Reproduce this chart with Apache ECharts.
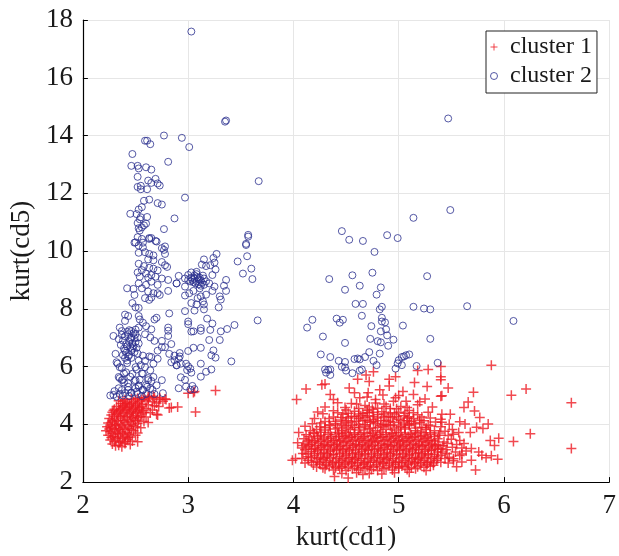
<!DOCTYPE html>
<html>
<head>
<meta charset="utf-8">
<script src="https://cdn.jsdelivr.net/npm/echarts@6/dist/echarts.min.js"></script>
<style>
  html, body { margin: 0; padding: 0; background: #fff; }
  #chart { width: 619px; height: 556px; }
</style>
</head>
<body>
<div id="chart"></div>
<script>
// axis ranges
const xRange = [2, 7];
const yRange = [2, 18];
const seriesNames = ['cluster 1', 'cluster 2'];

// cluster 1, low kurt(cd1) group
const cluster1Left = [
  [2.34,4.82],[2.40,4.85],[2.46,4.88],[2.52,4.90],[2.58,4.92],[2.63,4.97],[2.67,4.97],[2.68,4.92],[2.73,4.92],[2.73,4.86],[2.76,4.80],[2.78,4.88],[2.79,4.86],[2.62,4.95],
  [2.36,4.72],[2.42,4.75],[2.48,4.78],[2.54,4.80],[2.60,4.82],[2.66,4.78],[2.70,4.74],
  [2.32,4.62],[2.38,4.65],[2.44,4.68],[2.50,4.66],[2.56,4.70],[2.62,4.68],[2.68,4.64],[2.72,4.62],
  [2.30,4.52],[2.36,4.55],[2.42,4.58],[2.48,4.55],[2.54,4.58],[2.60,4.55],[2.66,4.50],[2.82,4.57],[2.90,4.60],[2.84,4.58],
  [2.28,4.42],[2.34,4.45],[2.40,4.48],[2.46,4.44],[2.52,4.46],[2.58,4.42],[2.64,4.40],[2.70,4.35],[2.71,4.32],
  [2.27,4.32],[2.32,4.35],[2.38,4.30],[2.44,4.34],[2.50,4.30],[2.55,4.28],[2.60,4.25],
  [2.25,4.20],[2.30,4.18],[2.36,4.22],[2.42,4.16],[2.48,4.20],[2.53,4.15],[2.62,4.06],[2.58,4.10],
  [2.24,4.05],[2.28,4.08],[2.34,4.02],[2.40,4.06],[2.46,4.00],[2.52,4.04],
  [2.23,3.92],[2.27,3.88],[2.32,3.94],[2.38,3.90],[2.44,3.86],[2.50,3.92],[2.55,3.88],
  [2.22,3.78],[2.26,3.74],[2.31,3.80],[2.36,3.76],[2.42,3.72],[2.48,3.78],[2.52,3.70],
  [2.24,3.62],[2.29,3.58],[2.34,3.64],[2.40,3.60],[2.45,3.56],[2.50,3.62],
  [2.26,3.46],[2.31,3.50],[2.36,3.44],[2.42,3.48],[2.47,3.42],[2.52,3.40],
  [2.28,3.32],[2.34,3.28],[2.40,3.34],[2.45,3.30],[2.37,3.22],[2.31,3.26],
  [2.29,4.48],[2.35,4.50],[2.41,4.52],[2.47,4.50],[2.53,4.52],[2.57,4.48],[2.33,4.38],[2.39,4.40],[2.45,4.38],[2.51,4.40],[2.56,4.36],
  [2.30,4.26],[2.36,4.28],[2.42,4.26],[2.47,4.24],[2.52,4.24],[2.28,4.12],[2.33,4.12],[2.39,4.12],[2.45,4.10],[2.50,4.12],
  [2.26,3.98],[2.31,3.99],[2.37,3.98],[2.43,3.94],[2.48,3.96],[2.25,3.84],[2.30,3.86],[2.35,3.84],[2.40,3.82],[2.46,3.82],
  [2.28,3.68],[2.33,3.70],[2.38,3.68],[2.44,3.66],[2.27,3.54],[2.33,3.56],[2.38,3.52],[2.43,3.54],[2.30,3.40],[2.35,3.38],[2.40,3.40],
  [2.38,4.60],[2.44,4.62],[2.50,4.60],[2.56,4.62],[2.40,4.72],[2.46,4.72],[2.52,4.74],[2.38,4.80],[2.50,4.84],[2.56,4.86],[2.62,4.88],
  [3.00,5.08],[3.06,5.14],[3.26,5.17],[3.07,4.43],[3.05,5.10]
];

// cluster 1, high kurt(cd1) group
const cluster1Right = [
  [5.88,6.05],[5.40,6.00],[5.28,5.90],[5.18,5.86],[4.76,5.82],[4.69,5.71],[5.40,5.65],[4.97,5.65],[5.40,5.54],[4.61,5.56],[4.91,5.56],[4.72,5.48],[5.15,5.45],[4.30,5.40],[4.27,5.37],[4.91,5.33],[5.27,5.31],[5.47,5.26],[4.53,5.26],[6.21,5.22],[4.12,5.22],[4.82,5.20],[5.04,5.14],[5.71,5.11],[4.58,5.09],[4.71,5.09],[5.14,5.03],[4.35,5.03],[6.07,5.01],[5.41,4.99],[5.40,4.97],
  [4.63,4.92],[4.97,4.92],[5.25,4.88],[4.03,4.86],[4.38,4.86],[4.78,4.86],[5.07,4.80],[4.42,4.75],[5.66,4.77],[6.64,4.75],[4.55,4.72],[4.86,4.70],[5.18,4.68],[4.68,4.65],[5.02,4.62],[5.62,4.58],[4.49,4.58],[4.30,4.60],[5.32,4.60],[4.92,4.55],[4.75,4.52],[5.72,4.46],[4.23,4.43],[4.38,4.47],[4.58,4.45],[4.84,4.44],[5.10,4.48],[5.28,4.42],[4.28,4.37],[5.41,4.35],[5.49,4.35],[4.47,4.35],[4.66,4.38],[4.96,4.36],[5.18,4.33],[4.72,4.30],[4.90,4.28],[5.05,4.30],[4.55,4.28],[4.38,4.25],[5.77,4.24],[5.30,4.22],[4.20,4.20],[4.62,4.20],[4.80,4.22],[5.00,4.18],[5.14,4.20],[5.40,4.18],[4.45,4.15],[4.70,4.12],[4.88,4.14],[5.08,4.12],[5.24,4.12],[4.30,4.10],[4.55,4.08],[4.95,4.06],[5.35,4.08],[5.41,4.07],[5.58,4.09],[5.63,4.01],[5.85,4.01],[4.18,4.02],[4.40,4.02],[4.62,4.00],[4.78,4.03],[5.15,4.02],[5.48,4.00],
  [4.26,4.05],[4.50,4.05],[4.73,4.07],[4.86,4.00],[5.05,4.05],[5.20,4.06],[4.34,4.20],[4.52,4.22],[4.76,4.17],[4.94,4.24],[5.08,4.22],[5.22,4.25],[4.42,4.40],[4.62,4.36],[4.80,4.34],[5.00,4.42],[5.14,4.40],[4.50,4.50],[4.70,4.48],[4.88,4.62],[5.08,4.58],[4.60,4.70],[4.78,4.74],[4.95,4.80],[5.20,4.78],[4.70,4.95],[4.85,5.02],[5.00,5.00],
  [4.62,4.55],[4.80,4.56],[4.98,4.54],[4.72,4.60],[4.52,4.38],[4.70,4.40],[4.76,4.42],[4.92,4.40],[5.06,4.38],[4.86,4.36],
  [4.46,4.24],[4.58,4.26],[4.68,4.24],[4.76,4.27],[4.86,4.25],[4.98,4.27],[5.10,4.26],[4.64,4.30],
  [4.40,4.10],[4.50,4.12],[4.60,4.11],[4.66,4.14],[4.76,4.09],[4.83,4.12],[4.92,4.10],[5.02,4.12],[5.12,4.10],[5.20,4.14],
  [4.34,3.99],[4.46,3.98],[4.56,3.97],[4.68,3.99],[4.83,3.97],[4.90,3.99],[5.00,3.98],[5.10,4.00],[5.28,3.98],
  [4.30,3.88],[4.42,3.88],[4.52,3.87],[4.63,3.88],[4.73,3.87],[4.80,3.89],[4.96,3.87],[5.06,3.89],[5.16,3.87],[5.26,3.88],
  [4.11,3.93],[4.25,3.92],[4.35,3.95],[4.48,3.94],[4.58,3.90],[4.68,3.93],[4.85,3.92],[4.92,3.95],[5.02,3.92],[5.10,3.96],[5.22,3.90],[5.30,3.94],[5.40,3.92],[5.74,3.90],[5.80,3.86],[5.51,3.82],
  [4.16,3.78],[4.22,3.82],[4.30,3.80],[4.40,3.84],[4.46,3.78],[4.54,3.82],[4.62,3.80],[4.72,3.84],[4.78,3.78],[4.88,3.82],[4.98,3.80],[5.06,3.84],[5.16,3.78],[5.26,3.82],[5.34,3.78],[5.44,3.76],[4.05,3.72],[5.57,3.72],[5.68,3.72],[6.25,3.67],
  [4.19,3.71],[4.26,3.73],[4.35,3.72],[4.43,3.70],[4.50,3.73],[4.58,3.71],[4.67,3.72],[4.75,3.70],[4.83,3.73],[4.93,3.71],[5.02,3.72],[5.11,3.70],[5.21,3.73],[5.30,3.71],[5.39,3.70],
  [4.12,3.64],[4.20,3.68],[4.26,3.62],[4.33,3.66],[4.40,3.64],[4.46,3.68],[4.52,3.62],[4.58,3.66],[4.64,3.64],[4.70,3.68],[4.76,3.62],[4.82,3.66],[4.88,3.64],[4.94,3.68],[5.00,3.62],[5.06,3.66],[5.12,3.64],[5.18,3.68],[5.24,3.62],[5.30,3.66],[5.38,3.62],[5.47,3.61],[5.52,3.66],[5.95,3.52],
  [4.15,3.57],[4.23,3.59],[4.29,3.56],[4.36,3.58],[4.43,3.57],[4.49,3.59],[4.55,3.56],[4.61,3.58],[4.67,3.57],[4.73,3.59],[4.79,3.56],[4.85,3.58],[4.91,3.57],[4.97,3.59],[5.03,3.56],[5.09,3.58],[5.15,3.57],[5.21,3.59],[5.27,3.56],[5.34,3.58],
  [4.10,3.50],[4.17,3.46],[4.23,3.52],[4.29,3.48],[4.35,3.52],[4.41,3.46],[4.47,3.50],[4.53,3.54],[4.59,3.48],[4.65,3.52],[4.71,3.46],[4.77,3.50],[4.83,3.54],[4.89,3.48],[4.95,3.52],[5.01,3.46],[5.07,3.50],[5.13,3.54],[5.19,3.48],[5.25,3.52],[5.31,3.46],[5.37,3.50],[5.43,3.39],[5.50,3.48],[5.58,3.44],[5.87,3.44],[6.09,3.41],
  [4.14,3.42],[4.20,3.44],[4.26,3.41],[4.32,3.43],[4.38,3.42],[4.44,3.44],[4.50,3.41],[4.56,3.43],[4.62,3.42],[4.68,3.44],[4.74,3.41],[4.80,3.43],[4.86,3.42],[4.92,3.44],[4.98,3.41],[5.04,3.43],[5.10,3.42],[5.16,3.44],[5.22,3.41],[5.28,3.43],[5.34,3.42],
  [4.04,3.36],[4.12,3.32],[4.18,3.38],[4.24,3.34],[4.30,3.30],[4.36,3.36],[4.42,3.32],[4.48,3.38],[4.54,3.34],[4.60,3.30],[4.66,3.36],[4.72,3.32],[4.78,3.38],[4.84,3.34],[4.90,3.30],[4.96,3.36],[5.02,3.32],[5.08,3.38],[5.14,3.34],[5.20,3.30],[5.26,3.36],[5.32,3.32],[5.38,3.28],[5.46,3.34],[5.55,3.30],[5.62,3.34],[5.91,3.27],
  [4.09,3.27],[4.15,3.29],[4.21,3.26],[4.27,3.28],[4.33,3.27],[4.39,3.29],[4.45,3.26],[4.51,3.28],[4.57,3.27],[4.63,3.29],[4.69,3.26],[4.75,3.28],[4.81,3.27],[4.87,3.29],[4.93,3.26],[4.99,3.28],[5.05,3.27],[5.11,3.29],[5.17,3.26],[5.23,3.28],[5.29,3.27],[5.35,3.29],[5.42,3.26],
  [4.08,3.18],[4.14,3.22],[4.20,3.16],[4.26,3.20],[4.32,3.24],[4.38,3.18],[4.44,3.22],[4.50,3.16],[4.56,3.20],[4.62,3.24],[4.68,3.18],[4.74,3.22],[4.80,3.16],[4.86,3.20],[4.92,3.24],[4.98,3.18],[5.04,3.22],[5.10,3.16],[5.16,3.20],[5.22,3.24],[5.28,3.18],[5.34,3.22],[5.40,3.16],[5.51,3.21],[5.60,3.18],[5.69,3.16],[6.64,3.16],
  [4.11,3.12],[4.17,3.14],[4.23,3.12],[4.29,3.13],[4.35,3.11],[4.41,3.14],[4.47,3.12],[4.53,3.13],[4.59,3.11],[4.65,3.14],[4.71,3.12],[4.77,3.13],[4.83,3.11],[4.89,3.14],[4.95,3.12],[5.01,3.13],[5.07,3.11],[5.13,3.14],[5.19,3.12],[5.25,3.13],[5.31,3.11],[5.37,3.14],[5.45,3.12],
  [4.09,2.99],[4.17,3.05],[4.23,3.08],[4.29,3.02],[4.35,3.06],[4.41,3.10],[4.47,3.04],[4.53,3.08],[4.59,3.02],[4.65,3.06],[4.71,3.10],[4.77,3.04],[4.83,3.08],[4.89,3.02],[4.95,3.06],[5.01,3.10],[5.07,3.04],[5.13,3.08],[5.19,3.02],[5.25,3.06],[5.31,3.10],[5.37,3.04],[5.41,3.04],[5.54,3.04],[5.64,3.08],[5.76,3.04],
  [4.12,2.97],[4.20,2.99],[4.26,2.97],[4.32,2.98],[4.38,2.96],[4.44,2.99],[4.50,2.97],[4.56,2.98],[4.62,2.96],[4.68,2.99],[4.74,2.97],[4.80,2.98],[4.86,2.96],[4.92,2.99],[4.98,2.97],[5.04,2.98],[5.10,2.96],[5.16,2.99],[5.22,2.97],[5.28,2.98],[5.34,2.96],[5.46,2.98],[5.60,2.97],
  [4.14,2.88],[4.20,2.92],[4.26,2.86],[4.32,2.90],[4.38,2.94],[4.44,2.88],[4.50,2.92],[4.56,2.86],[4.62,2.90],[4.68,2.94],[4.74,2.88],[4.80,2.92],[4.86,2.86],[4.92,2.90],[4.98,2.94],[5.04,2.88],[5.10,2.92],[5.16,2.86],[5.22,2.90],[5.28,2.94],[5.34,2.88],[5.40,2.92],[5.48,2.86],[5.58,2.92],[5.79,2.93],[5.88,2.91],
  [4.08,2.82],[4.17,2.84],[4.23,2.81],[4.29,2.83],[4.35,2.84],[4.41,2.82],[4.47,2.81],[4.53,2.84],[4.59,2.82],[4.65,2.83],[4.71,2.81],[4.77,2.84],[4.83,2.82],[4.89,2.83],[4.95,2.81],[5.01,2.84],[5.07,2.82],[5.13,2.83],[5.19,2.81],[5.25,2.84],[5.31,2.82],[5.37,2.83],[5.52,2.81],
  [3.99,2.76],[4.02,2.82],[4.14,2.76],[4.22,2.72],[4.28,2.78],[4.34,2.74],[4.40,2.70],[4.46,2.76],[4.52,2.72],[4.58,2.78],[4.64,2.74],[4.70,2.70],[4.76,2.76],[4.82,2.72],[4.88,2.78],[4.94,2.74],[5.00,2.70],[5.06,2.76],[5.12,2.72],[5.18,2.78],[5.24,2.74],[5.30,2.70],[5.36,2.76],[5.44,2.82],[5.52,2.74],[5.60,2.70],[5.69,2.76],[5.83,2.84],[5.94,2.79],
  [4.11,2.66],[4.17,2.69],[4.25,2.67],[4.31,2.69],[4.37,2.66],[4.43,2.68],[4.49,2.66],[4.55,2.69],[4.61,2.67],[4.67,2.66],[4.73,2.69],[4.79,2.67],[4.85,2.68],[4.91,2.66],[4.97,2.69],[5.03,2.67],[5.09,2.66],[5.15,2.69],[5.21,2.67],[5.27,2.68],[5.33,2.66],[5.40,2.69],[5.47,2.66],
  [4.19,2.59],[4.25,2.62],[4.31,2.58],[4.37,2.62],[4.43,2.56],[4.49,2.60],[4.55,2.64],[4.61,2.58],[4.67,2.62],[4.73,2.56],[4.79,2.60],[4.85,2.64],[4.91,2.58],[4.97,2.62],[5.03,2.56],[5.09,2.60],[5.15,2.64],[5.21,2.58],[5.27,2.62],[5.33,2.58],[5.55,2.53],
  [4.22,2.52],[4.28,2.50],[4.34,2.54],[4.40,2.50],[4.46,2.53],[4.52,2.51],[4.58,2.54],[4.64,2.50],[4.70,2.53],[4.76,2.51],[4.82,2.54],[4.88,2.50],[4.94,2.53],[5.00,2.51],[5.06,2.54],[5.12,2.50],[5.18,2.53],[5.24,2.51],[5.30,2.55],
  [4.30,2.46],[4.38,2.42],[4.44,2.48],[4.50,2.40],[4.56,2.46],[4.62,2.42],[4.68,2.48],[4.74,2.44],[4.80,2.40],[4.86,2.46],[4.94,2.42],[5.00,2.48],[5.08,2.44],[5.16,2.46],[5.26,2.40],[5.73,2.42],
  [4.39,2.19],[4.52,2.14],[4.46,2.30],[4.60,2.32],[4.72,2.30],[4.84,2.28],[4.96,2.32],[5.10,2.34],[4.66,2.26]
];

// cluster 2, tall column near kurt(cd1) = 2.5
const cluster2Left = [
  [3.03,17.6],[3.35,14.48],[3.36,14.52],[2.77,14.0],[2.94,13.92],[3.01,13.6],[2.59,13.82],[2.61,13.82],[2.64,13.7],[2.47,13.36],[2.46,12.95],[2.52,12.95],[2.53,12.86],[2.60,12.9],[2.65,12.82],[2.81,13.09],[2.52,12.57],[2.62,12.44],[2.69,12.5],[2.65,12.36],[2.71,12.34],[2.73,12.27],[2.52,12.22],[2.55,12.26],[2.55,12.14],[2.61,12.14],[3.67,12.42],[2.97,11.85],[2.58,11.74],[2.63,11.78],[2.71,11.66],[2.75,11.61],[2.56,11.52],[2.53,11.44],[2.45,11.29],[2.51,11.28],[2.55,11.17],[2.61,11.18],[2.54,11.10],[2.87,11.13],[2.52,10.97],[2.60,10.95],[2.58,10.89],[2.56,10.82],[2.53,10.79],[2.77,10.76],[2.54,10.71],[2.63,10.45],[2.65,10.45],[2.52,10.48],[2.70,10.33],[2.49,10.29],[2.57,10.29],[2.78,10.16],[3.57,10.56],[3.55,10.25],
  [2.50,10.30],[2.56,10.42],[2.63,10.42],[2.69,10.35],[2.53,10.19],[2.57,10.13],[2.53,9.94],[2.59,9.96],[2.63,9.90],[2.67,9.85],[2.75,10.10],[2.77,10.04],[2.78,9.90],[2.62,9.71],[2.67,9.68],[2.75,9.62],[2.78,9.51],[2.80,9.45],[2.53,9.56],[2.58,9.48],[2.63,9.42],[2.67,9.39],[2.71,9.33],[2.56,9.34],[2.60,9.22],[2.65,9.17],[2.69,9.11],[2.52,9.26],[2.54,9.11],[2.62,9.08],[2.75,9.05],[2.81,9.00],[2.65,8.94],[2.71,8.83],[2.60,8.83],[2.56,8.71],[2.62,8.60],[2.67,8.54],[2.71,8.54],[2.81,8.62],[2.42,8.71],[2.48,8.69],[2.49,8.48],[2.53,8.88],[2.47,8.20],[2.50,8.05],[2.53,8.03],[2.59,8.37],[2.63,8.31],[2.65,8.39],[2.73,8.48],[2.89,8.88],[2.82,7.84],[2.81,7.35],[2.81,7.24],
  [2.40,7.80],[2.43,7.75],[2.53,7.75],[2.54,7.63],[2.57,7.52],[2.60,7.40],[2.65,7.29],[2.70,7.69],[2.68,7.63],[2.40,7.58],[2.35,7.35],[2.29,7.06],[2.34,6.95],[2.37,7.23],[2.46,7.23],[2.53,7.35],[2.59,7.12],[2.64,7.01],[2.68,6.89],[2.75,6.89],[2.75,6.67],[2.71,6.55],[2.78,6.67],[2.84,6.78],[2.81,7.06],[2.82,6.44],[2.87,6.38],[2.92,6.35],[2.93,6.10],[2.89,6.04],[2.84,6.15],[2.32,6.15],[2.31,6.44],[2.35,5.98],[2.42,6.21],[2.39,5.76],[2.34,5.64],[2.37,5.53],[2.43,5.42],[2.50,5.53],[2.56,5.76],[2.59,5.98],[2.64,5.87],[2.67,6.10],[2.71,6.27],[2.65,6.33],[2.57,6.38],[2.53,6.21],[2.50,5.98],[2.62,5.53],[2.67,5.64],[2.75,5.53],[2.76,5.08],[2.64,5.25],[2.57,5.19],[2.51,5.13],[2.46,5.08],[2.40,5.08],[2.32,4.96],[2.26,5.00],[2.29,5.02],[2.37,5.19],[2.43,5.19],[2.53,5.30],[2.60,5.36],
  [2.38,6.40],[2.40,6.55],[2.42,6.70],[2.44,6.85],[2.46,7.00],[2.48,7.15],[2.50,7.28],[2.38,6.90],[2.40,7.05],[2.42,7.20],[2.44,6.40],[2.46,6.55],[2.48,6.70],[2.50,6.85],[2.52,7.00],[2.36,6.75],[2.39,6.62],[2.41,6.48],[2.43,6.35],[2.45,6.95],[2.47,6.80],[2.49,6.50],[2.51,6.65],[2.53,6.80],[2.37,7.10],[2.43,7.12],[2.47,6.62],[2.41,6.78],[2.45,6.68],[2.49,6.98],[2.52,6.45],[2.40,6.30],[2.46,6.30],[2.44,7.26],[2.50,7.12],
  [2.33,6.10],[2.37,5.95],[2.41,5.80],[2.45,5.65],[2.49,5.50],[2.53,5.35],[2.57,5.20],[2.35,5.60],[2.39,5.45],[2.43,5.30],[2.47,5.75],[2.51,5.90],[2.55,6.05],[2.59,6.20],[2.63,6.35],[2.65,5.50],[2.61,5.30],[2.57,5.75],[2.34,5.25],[2.38,5.55],[2.42,6.12],[2.46,5.10],[2.50,5.25],[2.54,5.55],[2.60,5.05],[2.66,5.20],[2.70,5.35],[2.68,5.05],[2.62,5.60],[2.35,5.05],[2.30,5.15],[2.44,4.98],[2.38,5.00],[2.52,5.05],[2.56,4.98]
];

// cluster 2, group near kurt(cd1) = 3.1
const cluster2Mid = [
  [3.27,9.90],[3.24,9.76],[3.15,9.71],[3.13,9.53],[3.17,9.48],[3.21,9.51],[3.25,9.60],[3.26,9.36],[3.23,9.17],[2.91,9.14],[2.97,9.05],[3.00,9.17],[3.03,9.26],[3.08,9.28],[2.89,8.88],[2.97,8.77],[2.97,8.46],[3.01,8.54],[3.05,8.62],[3.11,8.71],[3.15,8.83],[3.20,8.88],[3.25,8.77],[3.23,8.62],[3.17,8.49],[3.12,8.43],[3.09,8.37],[3.14,8.26],[3.03,8.20],[3.08,8.15],[3.15,8.15],[3.29,8.05],[3.31,8.32],[3.30,8.43],[3.36,9.00],[3.34,8.80],[3.36,8.62],[3.47,9.64],[3.52,9.22],[3.56,9.82],[3.60,9.39],[3.61,9.03],[3.55,10.21],[3.57,10.50],[3.66,7.60],[3.44,7.44],[3.37,7.30],[3.31,7.22],[3.30,6.92],[3.20,6.92],[3.21,7.27],[3.23,7.49],[3.18,7.66],[3.12,7.24],[3.12,7.33],[3.05,7.22],[3.03,7.21],[3.00,7.56],[3.00,7.47],[2.97,7.92],[3.06,7.94],[3.15,7.98],[3.24,6.56],[3.22,6.39],[3.26,6.31],[3.41,6.18],[3.12,6.65],[3.05,6.65],[3.00,6.54],[2.92,6.47],[2.91,6.28],[2.98,6.10],[3.00,6.01],[3.02,5.93],[2.99,5.88],[3.12,6.10],[3.22,5.90],[3.17,5.82],[3.12,5.65],[3.03,5.79],[2.93,5.63],[2.97,5.54],[2.91,5.25],[2.98,5.31],[3.04,5.33],[3.06,5.22],[3.02,5.20],[2.87,6.22],[2.89,6.05],
  [3.04,9.00],[3.06,9.05],[3.08,8.95],[3.10,9.02],[3.12,8.98],[3.05,8.92],[3.09,9.10],[3.11,9.08],[3.03,9.08],[3.07,8.88],[3.13,8.90],[3.15,9.05],[3.02,8.95],[3.10,8.85],[3.06,9.15],[3.14,9.15],[3.00,9.00],[3.17,8.95],[3.08,9.20],[3.12,8.80]
];

// cluster 2, scattered group at high kurt(cd1)
const cluster2Right = [
  [5.47,14.59],[5.49,11.42],[5.14,11.15],[4.46,10.69],[4.53,10.39],[4.66,10.35],[4.89,10.55],[4.99,10.45],[4.77,9.97],[4.34,9.03],[4.56,9.16],[4.75,9.25],[5.27,9.13],[4.49,8.66],[4.63,8.80],[4.83,8.74],[4.79,8.49],[4.59,8.17],[4.66,8.17],[4.84,8.07],[4.82,7.98],[5.14,8.07],[5.24,8.01],[5.30,7.98],[5.65,8.09],[6.09,7.58],[4.18,7.62],[4.13,7.35],[4.41,7.66],[4.47,7.62],[4.44,7.52],[4.65,7.76],[4.74,7.40],[4.84,7.69],[4.84,7.56],[4.87,7.53],[4.88,7.29],[4.83,7.22],[5.04,7.42],[4.28,7.04],[4.49,6.82],[4.73,6.96],[4.80,6.88],[4.83,6.84],[4.89,7.08],[4.95,6.93],[4.90,6.72],[5.30,6.96],[4.72,6.50],[4.82,6.45],[4.26,6.42],[4.35,6.33],[4.43,6.20],[4.49,6.16],[4.58,6.26],[4.61,6.28],[4.63,6.25],[4.68,6.33],[4.76,6.20],[4.79,6.05],[5.00,6.22],[5.03,6.33],[5.05,6.35],[5.07,6.39],[5.10,6.42],[4.99,6.11],[5.03,6.05],[4.97,5.93],[5.17,6.02],[5.37,6.13],
  [4.30,5.90],[4.33,5.88],[4.35,5.90],[4.31,5.79],[4.35,5.71],[4.46,5.99],[4.49,5.97],[4.50,5.86],[4.56,5.77],[4.63,5.86],[4.65,5.90]
];

const redColor = '#ed1c24';
const blueColor = '#2b2f8f';
const plusIcon = 'path://M0,5L10,5M5,0L5,10';

const chart = echarts.init(document.getElementById('chart'));

const axisFont = {
  fontFamily: 'Liberation Serif',
  fontSize: 27,
  color: '#1a1a1a'
};

const option = {
  animation: false,
  backgroundColor: '#fff',
  grid: {
    left: 81,
    right: 7,
    top: 20,
    bottom: 65
  },
  legend: {
    orient: 'vertical',
    left: 486,
    top: 31,
    padding: [4, 5, 5, 4],
    itemGap: 5,
    itemWidth: 22,
    itemHeight: 7,
    backgroundColor: '#fff',
    borderColor: '#222',
    borderWidth: 1,
    borderRadius: 0,
    textStyle: {
      fontFamily: 'Liberation Serif',
      fontSize: 24,
      color: '#1a1a1a'
    },
    data: [
      { name: seriesNames[0], icon: plusIcon, itemStyle: { color: 'rgba(0,0,0,0)', borderColor: redColor, borderWidth: 1 } },
      { name: seriesNames[1], icon: 'circle', itemStyle: { color: 'rgba(0,0,0,0)', borderColor: blueColor, borderWidth: 1 } }
    ]
  },
  xAxis: {
    type: 'value',
    min: xRange[0],
    max: xRange[1],
    interval: 1,
    name: 'kurt(cd1)',
    nameLocation: 'middle',
    nameGap: 38,
    nameTextStyle: axisFont,
    axisLine: { lineStyle: { color: '#000', width: 1.2 } },
    axisTick: { inside: true, length: 5, lineStyle: { color: '#000' } },
    axisLabel: Object.assign({ margin: 10 }, axisFont),
    splitLine: { show: true, lineStyle: { color: '#e6e6e6', width: 1 } }
  },
  yAxis: {
    type: 'value',
    min: yRange[0],
    max: yRange[1],
    interval: 2,
    name: 'kurt(cd5)',
    nameLocation: 'middle',
    nameGap: 43,
    nameTextStyle: axisFont,
    axisLine: { show: true, lineStyle: { color: '#000', width: 1.2 } },
    axisTick: { show: true, inside: true, length: 5, lineStyle: { color: '#000' } },
    axisLabel: Object.assign({ margin: 10 }, axisFont),
    splitLine: { show: true, lineStyle: { color: '#e6e6e6', width: 1 } }
  },
  series: [
    {
      name: seriesNames[0],
      type: 'scatter',
      symbol: plusIcon,
      symbolSize: 10,
      data: cluster1Left.concat(cluster1Right),
      itemStyle: { color: 'rgba(0,0,0,0)', borderColor: redColor, borderWidth: 1.5 },
      emphasis: { disabled: true }
    },
    {
      name: seriesNames[1],
      type: 'scatter',
      symbol: 'circle',
      symbolSize: 7,
      data: cluster2Left.concat(cluster2Mid, cluster2Right),
      itemStyle: { color: 'rgba(0,0,0,0)', borderColor: blueColor, borderWidth: 1 },
      emphasis: { disabled: true }
    }
  ]
};

chart.setOption(option);
</script>
</body>
</html>
